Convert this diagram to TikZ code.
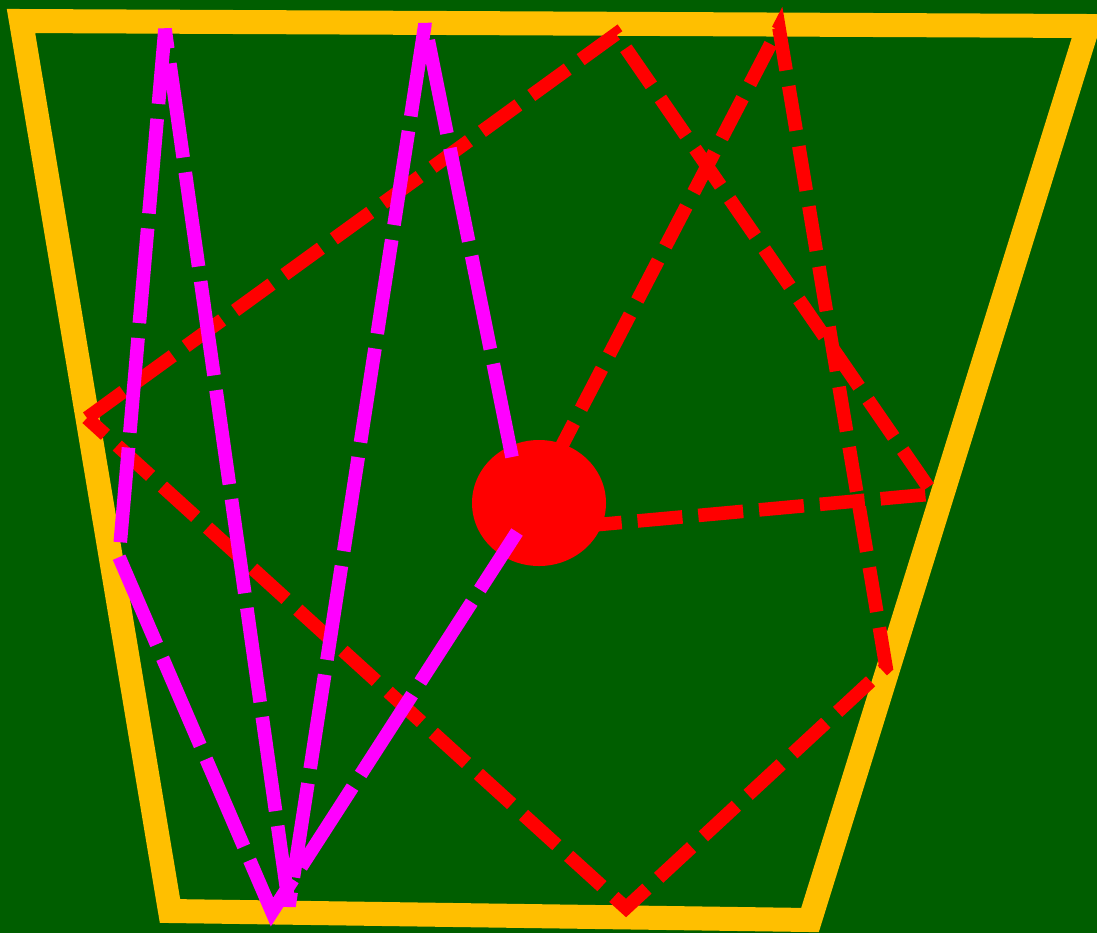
\documentclass[tikz,border=0pt]{standalone}
\usepackage{tikz}
\usetikzlibrary{calc}

\definecolor{fieldgreen}{RGB}{0,94,0}
\definecolor{frameorange}{RGB}{255,191,0}
\definecolor{zigpink}{RGB}{255,0,255}
\definecolor{starred}{RGB}{255,0,0}

\begin{document}
\begin{tikzpicture}[
    x=0.5pt, y=-0.5pt,
    frame/.style={draw=frameorange, line width=12pt, line join=miter},
    reddash/.style={draw=starred, line width=6.8pt, dash pattern=on 22.5pt off 8pt, miter limit=4},
    pinkdash/.style={draw=zigpink, line width=6.8pt, dash pattern=on 47.5pt off 7.5pt, miter limit=4},
    hubdot/.style={fill=starred}
]

% Background
\useasboundingbox (0,0) rectangle (1097,933);
\fill[fieldgreen] (0,0) rectangle (1097,933);

% ==========================================
% Orange frame
\coordinate (tl) at (21,21);
\coordinate (tr) at (1088,26);
\coordinate (br) at (810,920);
\coordinate (bl) at (170,911);
\draw[frame] (tl) -- (tr) -- (br) -- (bl) -- cycle;

% ==========================================
% Red dashed star
\coordinate (hub) at (517,532);
\coordinate (ra) at (87,418);
\coordinate (rb) at (616,34);
\coordinate (rc) at (933,494);
\coordinate (rf) at (779,28);
\coordinate (rg) at (886,667);
\coordinate (rh) at (626,908);
\draw[reddash] (ra) -- (rb) -- (rc) -- (hub) -- (rf) -- (rg) -- (rh) -- cycle;

% Red dot
\fill[hubdot] (539,503) ellipse [x radius=33.5pt, y radius=31.5pt];

% ==========================================
% Magenta dashed zigzag
\coordinate (ms) at (512,457);
\coordinate (mt1) at (425,24);
\coordinate (mb1) at (289,906);
\coordinate (mt2) at (165,29);
\coordinate (ml) at (119,557);
\coordinate (mb2) at (272,912);
\draw[pinkdash] (ms) -- (mt1) -- (mb1) -- (mt2) -- (ml) -- (mb2) -- (hub);

\end{tikzpicture}
\end{document}
